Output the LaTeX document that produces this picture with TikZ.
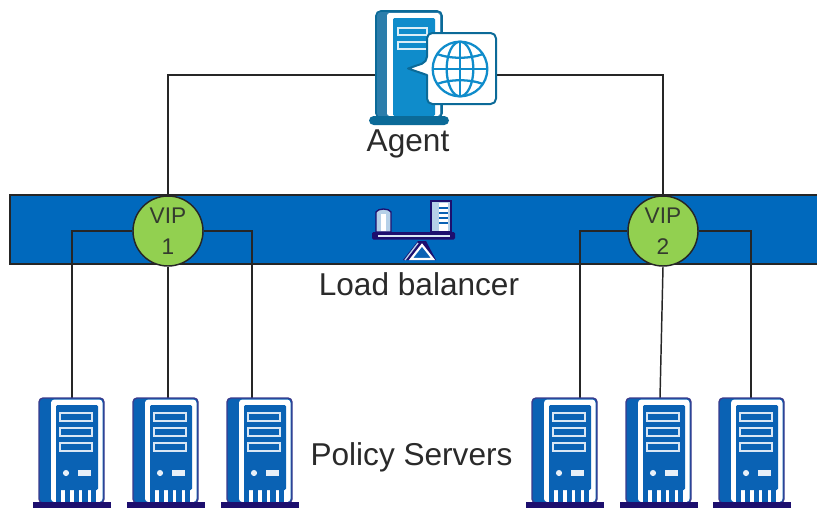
\documentclass[tikz,border=0pt]{standalone}
\usepackage{fontspec}
\setmainfont{Liberation Sans}
\definecolor{bandblue}{HTML}{0069BD}
\definecolor{vipgreen}{HTML}{92D050}
\definecolor{navy}{HTML}{1D0F6E}
\definecolor{srvedge}{HTML}{3B3A8C}
\definecolor{srvblue}{HTML}{0A62B4}
\definecolor{agblue}{HTML}{0F8CCB}
\definecolor{agdark}{HTML}{0B6A98}
\definecolor{agside}{HTML}{2B7DAB}
\definecolor{txt}{HTML}{2A2A2A}
\tikzset{
  link/.style={draw=black!85,line width=1.5pt},
  vipnode/.style={circle,draw=black!85,fill=vipgreen,line width=1.1pt,minimum size=52.5pt,inner sep=0pt,align=center,font=\fontsize{17}{23}\selectfont,text=txt!90!vipgreen},
  label/.style={font=\fontsize{23.7}{28}\selectfont,text=txt,inner sep=0pt},
  anchorbox/.style={inner sep=0pt,minimum width=48pt,minimum height=81pt},
  slot/.style={draw=white!85!srvblue,line width=1.6pt,fill=srvblue},
}
\newcommand{\srvpic}[1]{%
  \begin{scope}[xshift=#1*0.75pt]
    \fill[rounded corners=3pt,srvblue,draw=srvedge,line width=1pt] (39,398) rectangle (104,503);
    \fill[white,rounded corners=2.5pt] (51,399.5) -- (102.5,399.5) -- (102.5,502) -- (51,502) -- cycle;
    \fill[srvblue,rounded corners=1pt] (56,405) rectangle (98,490);
    \foreach \b in {56,64.8,73.6,82.4,91.2}{\fill[srvblue] (\b,489) rectangle +(5.2,13);}
    \draw[slot] (60,413) rectangle (92,421);
    \draw[slot] (60,428) rectangle (92,436);
    \draw[slot] (60,443) rectangle (92,451);
    \fill[white!90!srvblue] (66,473) circle (2.3pt);
    \fill[white!90!srvblue] (78,470) rectangle (91,476);
    \fill[navy] (33,502) rectangle (111,508);
  \end{scope}}
\begin{document}
\begin{tikzpicture}[x=0.75pt,y=-0.75pt]
\useasboundingbox (0,0) rectangle (817,508);
% band
\draw[fill=bandblue,draw=black!85,line width=1.1pt] (818,195) -- (10,195) -- (10,264) -- (818,264);
% names
\node[anchorbox,minimum width=90pt] (agent) at (436,68) {};
\node[vipnode] (vip1) at (168,231) {VIP\\1};
\node[vipnode] (vip2) at (663,231) {VIP\\2};
\node[anchorbox] (s1) at (72,450) {};
\node[anchorbox] (s2) at (166,450) {};
\node[anchorbox] (s3) at (260,450) {};
\node[anchorbox] (s4) at (564,450) {};
\node[anchorbox] (s5) at (658,450) {};
\node[anchorbox] (s6) at (751,450) {};
\coordinate (t1) at (72,398);
\coordinate (t2) at (168,398);
\coordinate (t3) at (252,398);
\coordinate (t4) at (580,398);
\coordinate (t5) at (660,398);
\coordinate (t6) at (751,398);
\coordinate (al) at (376,75);
\coordinate (ar) at (496,75);
% connectors
\draw[link] (al) -| (vip1.north);
\draw[link] (ar) -| (vip2.north);
\draw[link] (vip1.west) -| (t1);
\draw[link] (vip1.south) -- (t2);
\draw[link] (vip1.east) -| (t3);
\draw[link] (vip2.west) -| (t4);
\draw[link,line width=1.1pt] (vip2.south) -- (t5);
\draw[link] (vip2.east) -| (t6);
% servers
\srvpic{0}
\srvpic{94}
\srvpic{188}
\srvpic{493}
\srvpic{587}
\srvpic{680}
% agent icon
\fill[agside,draw=agdark,line width=1.2pt,rounded corners=3.5pt] (376,11) rectangle (442,118);
\fill[white,rounded corners=2pt] (387,13) rectangle (440,116);
\fill[agblue,rounded corners=1pt] (393,18) rectangle (435,116);
\foreach \y in {28,42}{\draw[draw=white!85!agblue,line width=1.5pt,fill=agblue] (398,\y) rectangle (427,\y+7);}
\fill[agdark,rounded corners=3.5pt] (369,116) rectangle (449,125);
\draw[agdark,fill=white,line width=1.5pt,line join=round,rounded corners=4pt]
  (427,62) [sharp corners] -- (408,68.5) -- (427,75) [rounded corners=4pt] -- (427,104) -- (496,104) -- (496,33) -- (427,33) -- cycle;
\begin{scope}[agblue,line width=1.7pt]
  \draw (460,69) circle (20.5pt);
  \draw (460,69) ellipse (10pt and 20.5pt);
  \draw (460,41.7) -- (460,96.3);
  \draw (432.7,69) -- (487.3,69);
  \draw (437,54) .. controls (450,59) and (470,59) .. (483,54);
  \draw (437,84) .. controls (450,79) and (470,79) .. (483,84);
\end{scope}
% balance
\draw[draw=navy,line width=1pt,fill=white!70!srvblue] (376,232) -- (376,212) .. controls (378,208) and (389,208) .. (391,212) -- (391,232) -- cycle;
\fill[white] (381,214) rectangle (386,231);
\draw[draw=navy,line width=1pt,fill=white!70!srvblue] (431,232) -- (431,201) -- (451,201) -- (451,232) -- cycle;
\fill[white] (439,203) rectangle (448,231);
\foreach \y in {208,213,218,223}{\draw[srvblue,line width=.8pt] (439,\y) -- (448,\y);}
\fill[navy,rounded corners=1pt] (372,232) rectangle (455,239.5);
\draw[white!85!srvblue,line width=1.1pt] (378,236) -- (450,236);
\fill[navy] (403,260) -- (418,241) -- (426,241) -- (436,260) -- cycle;
\draw[white!70!srvblue,line width=1pt] (405,260) -- (418,243);
\draw[white,fill=srvblue,line width=1.6pt,line join=miter] (422,245) -- (433,259) -- (411,259) -- cycle;
% labels
\node[label,anchor=base] (agentlabel) at (408,151) {Agent};
\node[label,anchor=base] (lblabel) at (419,295) {Load balancer};
\node[label,anchor=base] (pslabel) at (411.5,465) {Policy Servers};
\end{tikzpicture}
\end{document}
